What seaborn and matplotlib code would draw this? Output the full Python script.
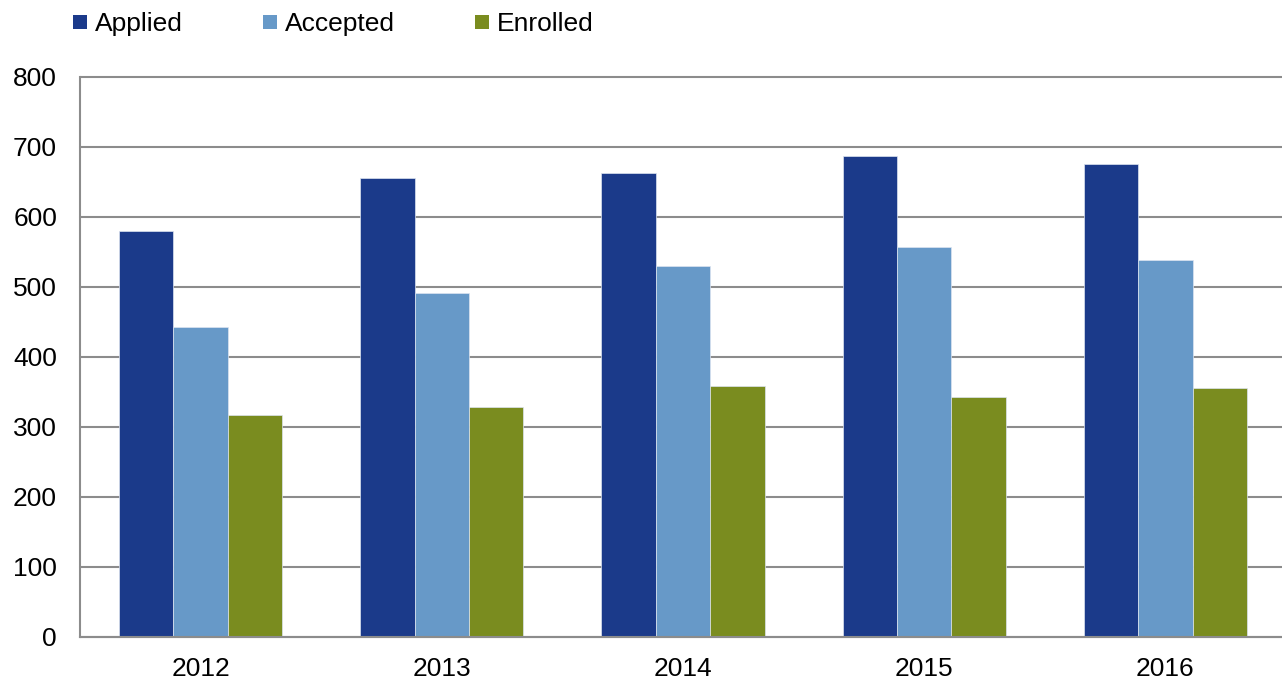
import matplotlib
matplotlib.use("Agg")
import matplotlib.pyplot as plt
from matplotlib.lines import Line2D
import seaborn as sns
import pandas as pd

years = ["2012", "2013", "2014", "2015", "2016"]
applied = [580, 656, 663, 687, 676]
accepted = [443, 492, 530, 557, 539]
enrolled = [317, 329, 359, 343, 356]
series = ["Applied", "Accepted", "Enrolled"]
colors = ["#1B3A8A", "#6799C8", "#7A8C1F"]
yticks = [0, 100, 200, 300, 400, 500, 600, 700, 800]

rows = []
for name, vals in zip(series, [applied, accepted, enrolled]):
    for y, v in zip(years, vals):
        rows.append({"Year": y, "Status": name, "Count": v})
df = pd.DataFrame(rows)

sns.set_style("white")
plt.rcParams["font.family"] = ["Liberation Sans", "DejaVu Sans"]
plt.rcParams["text.color"] = "black"
plt.rcParams["xtick.color"] = "black"
plt.rcParams["ytick.color"] = "black"

W, H = 1282, 683
fig = plt.figure(figsize=(W / 100, H / 100), dpi=100)
ax = fig.add_axes([80 / W, 46 / H, (1286 - 80) / W, 560 / H])

sns.barplot(data=df, x="Year", y="Count", hue="Status", order=years,
            hue_order=series, palette=colors, width=0.676, gap=0,
            saturation=1, ax=ax, legend=False,
            edgecolor="#dde4f0", linewidth=0.5, zorder=3)

gray = "#8c8c8c"
ax.set_ylim(0, 800)
ax.set_xlim(-0.5, 4.5)
ax.set_yticks(yticks)
ax.set_yticklabels([str(t) for t in yticks])
ax.set_xlabel("")
ax.set_ylabel("")
ax.yaxis.grid(True, color=gray, linewidth=1.5, zorder=0)
ax.xaxis.grid(False)
ax.set_axisbelow(True)
for gl in ax.yaxis.get_gridlines():
    gl.set_clip_on(False)

for s in ["top", "right"]:
    ax.spines[s].set_visible(False)
for s in ["left", "bottom"]:
    ax.spines[s].set_color(gray)
    ax.spines[s].set_linewidth(1.5)
    ax.spines[s].set_zorder(4)

ax.tick_params(axis="y", length=0, pad=16.5, labelsize=19, labelcolor="black")
ax.tick_params(axis="x", which="major", length=0, pad=14.5, labelsize=19, labelcolor="black")
ax.set_xticks([0.5, 1.5, 2.5, 3.5], minor=True)
ax.tick_params(axis="x", which="minor", direction="in", length=5.8, width=1.5, color=gray)

handles = [Line2D([], [], marker="s", linestyle="", markersize=10,
                  markerfacecolor=c, markeredgewidth=0) for c in colors]
fig.legend(handles, series, loc="upper left", bbox_to_anchor=(73 / W, 1 - 12 / H),
           ncol=3, frameon=False, fontsize=19, handlelength=0.53,
           handletextpad=0.3, columnspacing=3.03, borderpad=0, borderaxespad=0,
           labelcolor="black")

fig.savefig("out.png", dpi=100)
